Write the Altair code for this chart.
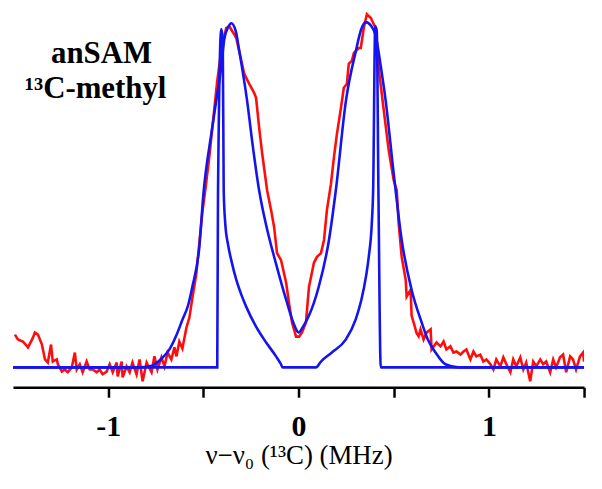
import altair as alt
import pandas as pd

# Experimental spectrum (red)
red_x = [-1.490, -1.474, -1.448, -1.421, -1.395, -1.385, -1.369, -1.348, -1.332, -1.317,
         -1.300, -1.291, -1.270, -1.264, -1.243, -1.228, -1.212, -1.191, -1.175, -1.165,
         -1.149, -1.134, -1.113, -1.097, -1.081, -1.060, -1.045, -1.029, -1.008, -0.992,
         -0.976, -0.955, -0.950, -0.929, -0.924, -0.903, -0.887, -0.872, -0.851, -0.835,
         -0.819, -0.798, -0.772, -0.757, -0.741, -0.720, -0.704, -0.688, -0.668, -0.652,
         -0.641, -0.626, -0.610, -0.589, -0.573, -0.558, -0.537, -0.521, -0.505, -0.490,
         -0.469, -0.427, -0.406, -0.380, -0.364, -0.338, -0.327, -0.285, -0.259, -0.233,
         -0.223, -0.207, -0.191, -0.165, -0.144, -0.128, -0.113, -0.092, -0.065, -0.050,
         -0.034, -0.013, 0.003, 0.018, 0.039, 0.055, 0.081, 0.097, 0.118, 0.134,
         0.149, 0.170, 0.186, 0.202, 0.223, 0.238, 0.254, 0.264, 0.280, 0.291,
         0.317, 0.327, 0.343, 0.359, 0.380, 0.395, 0.406, 0.421, 0.448, 0.474,
         0.500, 0.516, 0.526, 0.542, 0.563, 0.568, 0.589, 0.594, 0.605, 0.620,
         0.631, 0.641, 0.657, 0.673, 0.694, 0.699, 0.725, 0.746, 0.762, 0.777,
         0.798, 0.814, 0.830, 0.851, 0.867, 0.882, 0.903, 0.919, 0.934, 0.955,
         0.971, 0.987, 1.008, 1.024, 1.039, 1.060, 1.076, 1.092, 1.113, 1.128,
         1.144, 1.165, 1.181, 1.196, 1.217, 1.233, 1.249, 1.270, 1.285, 1.301,
         1.322, 1.338, 1.353, 1.374, 1.390, 1.406, 1.427, 1.442, 1.458, 1.479,
         1.495, 1.500]
red_y = [0.095, 0.081, 0.075, 0.058, 0.086, 0.101, 0.095, 0.066, 0.023, 0.014,
         0.066, 0.017, 0.023, 0.009, -0.012, -0.006, -0.014, 0.000, 0.043, -0.006,
         0.009, -0.014, 0.017, -0.006, -0.006, -0.014, -0.006, -0.020, -0.012, 0.009,
         -0.014, 0.014, -0.026, 0.017, -0.029, 0.003, -0.014, 0.014, -0.020, 0.023,
         -0.040, 0.014, -0.014, 0.032, -0.006, 0.029, 0.003, 0.043, 0.023, 0.058,
         0.032, 0.075, 0.055, 0.115, 0.145, 0.200, 0.270, 0.360, 0.450, 0.513,
         0.608, 0.830, 0.916, 0.983, 0.988, 0.965, 0.954, 0.850, 0.821, 0.795,
         0.781, 0.695, 0.620, 0.513, 0.455, 0.406, 0.331, 0.311, 0.245, 0.187,
         0.130, 0.089, 0.089, 0.101, 0.130, 0.233, 0.303, 0.320, 0.331, 0.369,
         0.455, 0.530, 0.608, 0.677, 0.752, 0.810, 0.821, 0.879, 0.888, 0.911,
         0.925, 0.925, 0.983, 1.023, 1.012, 0.994, 0.983, 0.867, 0.744, 0.628,
         0.542, 0.513, 0.418, 0.320, 0.254, 0.205, 0.225, 0.150, 0.130, 0.100,
         0.090, 0.110, 0.081, 0.101, 0.110, 0.052, 0.072, 0.061, 0.075, 0.052,
         0.061, 0.043, 0.046, 0.037, 0.046, 0.052, 0.023, 0.046, 0.032, 0.037,
         0.017, 0.023, 0.009, -0.006, 0.023, 0.003, 0.029, 0.009, -0.014, 0.023,
         0.003, 0.029, -0.006, 0.014, -0.040, 0.017, 0.003, 0.023, 0.009, 0.017,
         -0.014, 0.023, 0.000, 0.029, 0.037, -0.014, 0.032, 0.023, -0.006, 0.032,
         0.043, 0.017]

# Broadened simulation (blue, smooth)
smooth_x = [-1.5, -0.84, -0.77, -0.72, -0.678, -0.640, -0.610, -0.580, -0.558, -0.521,
            -0.500, -0.458, -0.430, -0.406, -0.390, -0.370, -0.353, -0.330, -0.311, -0.270,
            -0.240, -0.207, -0.165, -0.118, -0.065, -0.024, 0.0, 0.024, 0.055, 0.107,
            0.160, 0.196, 0.249, 0.301, 0.330, 0.353, 0.380, 0.406, 0.430, 0.458,
            0.500, 0.542, 0.594, 0.647, 0.680, 0.720, 0.772, 0.84, 1.5]
smooth_y = [0.0, 0.0, 0.005, 0.025, 0.052, 0.095, 0.138, 0.180, 0.233, 0.349,
            0.500, 0.677, 0.780, 0.870, 0.950, 0.985, 0.997, 0.975, 0.916, 0.772,
            0.640, 0.513, 0.400, 0.300, 0.196, 0.125, 0.101, 0.118, 0.150, 0.235,
            0.369, 0.513, 0.772, 0.916, 0.980, 1.000, 0.990, 0.960, 0.880, 0.772,
            0.562, 0.369, 0.225, 0.130, 0.080, 0.043, 0.009, 0.0, 0.0]

# Unbroadened powder pattern (blue, sharp)
sharp_x = [-1.5, -0.427, -0.423, -0.406, -0.398, -0.393, -0.385, -0.370, -0.353, -0.327,
           -0.300, -0.275, -0.223, -0.170, -0.118, -0.092, -0.084, 0.092, 0.118, 0.175,
           0.249, 0.301, 0.330, 0.355, 0.369, 0.385, 0.392, 0.403, 0.411, 0.420,
           0.432, 1.5]
sharp_y = [0.0, 0.0, 0.50, 0.980, 0.950, 0.513, 0.418, 0.355, 0.310, 0.254,
           0.210, 0.176, 0.118, 0.072, 0.032, 0.009, 0.0, 0.0, 0.017, 0.043,
           0.081, 0.140, 0.195, 0.265, 0.320, 0.418, 0.513, 0.988, 0.975, 0.500,
           0.0, 0.0]

tick_values = [-1, -0.5, 0, 0.5, 1, 1.5]

red_df = pd.DataFrame({"x": red_x, "y": red_y, "i": range(len(red_x))})
smooth_df = pd.DataFrame({"x": smooth_x, "y": smooth_y, "i": range(len(smooth_x))})
sharp_df = pd.DataFrame({"x": sharp_x, "y": sharp_y, "i": range(len(sharp_x))})

xscale = alt.Scale(domain=[-1.5, 1.5], nice=False, zero=False)
yscale = alt.Scale(domain=[-0.0576, 1.0317], nice=False, zero=False)

xenc = alt.X("x:Q", scale=xscale,
             axis=alt.Axis(values=tick_values,
                           labelExpr="datum.value == -1 ? '-1' : (datum.value == 0 ? '0' : (datum.value == 1 ? '1' : ''))",
                           title="ν−ν₀ (¹³C) (MHz)"))
yenc = alt.Y("y:Q", scale=yscale, axis=None)

def line(df, color, interp):
    return alt.Chart(df).mark_line(color=color, strokeWidth=2.6, clip=True,
                                   interpolate=interp).encode(
        x=xenc, y=yenc, order="i:Q")

red = line(red_df, "#ff0d0d", "linear")
smooth = line(smooth_df, "#1414f0", "monotone")
sharp = line(sharp_df, "#1414f0", "monotone")

t1 = alt.Chart(pd.DataFrame({"t": ["anSAM"]})).mark_text(
    font="Liberation Serif", fontWeight="bold", fontSize=31, align="center",
    baseline="alphabetic", color="black").encode(
    text="t:N", x=alt.value(89), y=alt.value(52))
t2 = alt.Chart(pd.DataFrame({"t": ["¹³C-methyl"]})).mark_text(
    font="Liberation Serif", fontWeight="bold", fontSize=31, align="center",
    baseline="alphabetic", color="black").encode(
    text="t:N", x=alt.value(83), y=alt.value(87))

chart = alt.layer(red, smooth, sharp, t1, t2).properties(
    width=574, height=378,
    autosize=alt.AutoSizeParams(type="none"),
    padding={"left": 5, "top": 2, "right": 10, "bottom": 95},
).configure_view(stroke=None).configure_axis(
    grid=False,
    domainColor="black", domainWidth=2.5,
    tickColor="black", tickWidth=2.5, tickSize=10,
    labelFont="Liberation Serif", labelFontWeight="bold", labelFontSize=30,
    labelColor="black", labelPadding=14,
    titleFont="Liberation Serif", titleFontWeight="normal", titleFontSize=27,
    titleColor="black", titlePadding=2,
)

chart.save("out.html", embed_options={"renderer": "svg", "actions": False})
